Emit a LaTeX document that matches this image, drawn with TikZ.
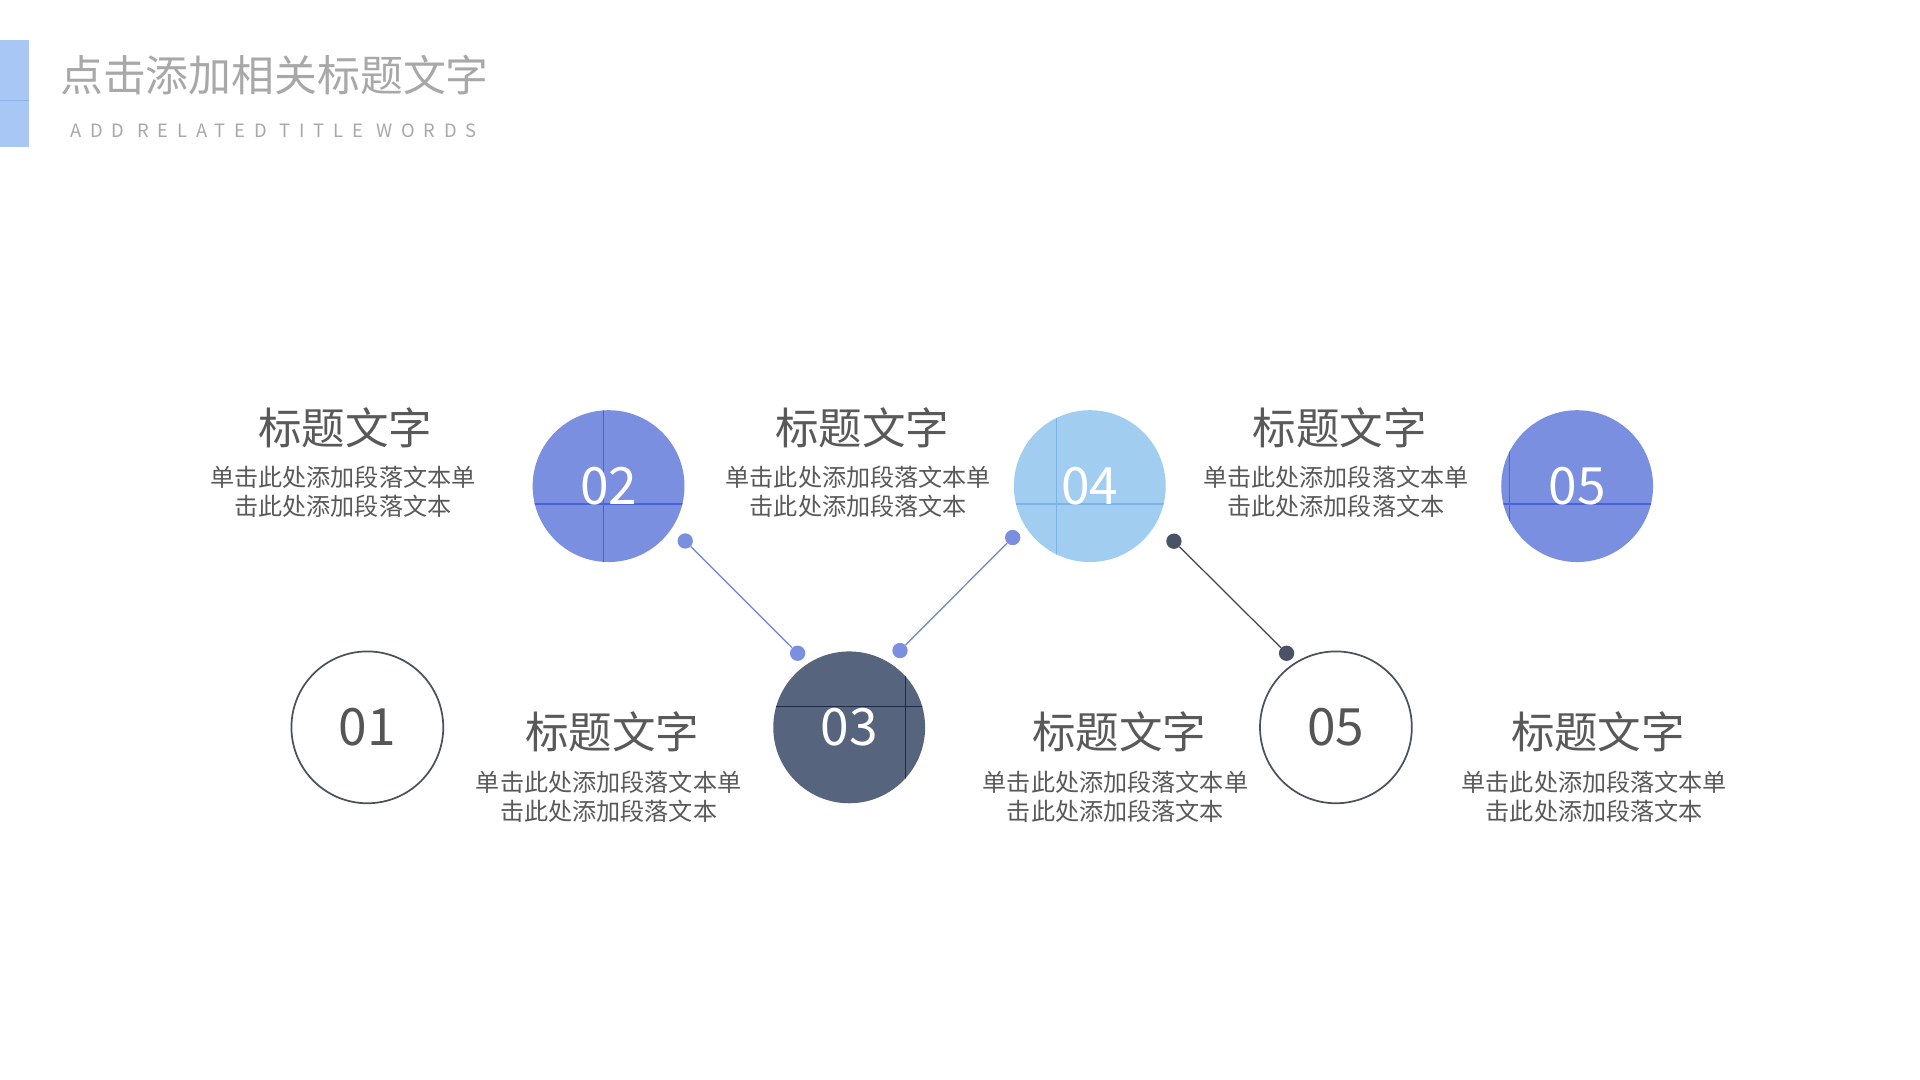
\documentclass[tikz,border=0pt]{standalone}
\usepackage{fontspec}
\setmainfont{Noto Sans CJK SC}
\definecolor{barc}{HTML}{A9C7F5}
\definecolor{barline}{HTML}{8FB2EE}
\definecolor{headc}{HTML}{A8A8A8}
\definecolor{textc}{HTML}{595959}
\definecolor{bluec}{HTML}{7B8FE0}
\definecolor{bluecross}{HTML}{4A63D8}
\definecolor{lightc}{HTML}{A0CDF0}
\definecolor{lightcross}{HTML}{7DB2E6}
\definecolor{slatec}{HTML}{56657D}
\definecolor{slatecross}{HTML}{1E2A48}
\definecolor{ringc}{HTML}{4B4F5E}
\definecolor{numgray}{HTML}{555555}
\definecolor{darkdot}{HTML}{4A5266}
\definecolor{blueline}{HTML}{6F80D8}
\definecolor{darkline}{HTML}{3D4254}
\tikzset{
  numfont/.style={font=\fontsize{42}{50}\selectfont},
  filled/.style={circle, minimum size=124pt, inner sep=0pt, fill=#1, text=white, numfont},
  ring/.style={circle, minimum size=124pt, inner sep=0pt, draw=ringc, line width=1.4pt, text=numgray, numfont},
  cross/.style n args={3}{path picture={
    \draw[line width=0.9pt, #3] ([xshift=#1pt]path picture bounding box.north) -- ([xshift=#1pt]path picture bounding box.south);
    \draw[line width=0.9pt, #3] ([yshift=#2pt]path picture bounding box.west) -- ([yshift=#2pt]path picture bounding box.east);}},
  dotnode/.style={circle, minimum size=12.5pt, inner sep=0pt, fill=#1},
  link/.style={line width=1pt, draw=#1},
  ttl/.style={text=textc, font=\fontsize{35.5}{40}\selectfont, inner sep=0pt},
  body/.style={text=textc, font=\fontsize{19.7}{23.5}\selectfont, align=center, inner sep=0pt},
}
\begin{document}
\begin{tikzpicture}[x=1pt,y=-1pt]
\useasboundingbox[fill=white] (0,0) rectangle (1568,882);
% header
\fill[barc] (0,33) rectangle (24,120);
\draw[barline, line width=0.8pt] (0,81.7) -- (24,81.7);
\node[anchor=west, inner sep=0pt, text=headc, font=\fontsize{35}{40}\selectfont] (head) at (49,61) {点击添加相关标题文字};
\node[anchor=west, inner sep=0pt, text=headc, font=\fontsize{15}{17}\selectfont\addfontfeatures{LetterSpace=48}] (sub) at (57,107) {ADD RELATED TITLE WORDS};
% circles
\node[ring] (c1) at (300,594) {01};
\node[filled=bluec, cross={-4.5}{-14.6}{bluecross}] (c2) at (497,397) {02};
\node[filled=slatec, cross={46}{17}{slatecross}] (c3) at (693.5,594) {03};
\node[filled=lightc, cross={-27}{-14.6}{lightcross}] (c4) at (890,397) {04};
\node[ring] (c5) at (1091,594) {05};
\node[filled=bluec, cross={-55}{-14.6}{bluecross}] (c6) at (1288,397) {05};
% dots and links
\node[dotnode=bluec] (d1) at (559.6,441.8) {};
\node[dotnode=bluec] (d2) at (651.4,533.5) {};
\node[dotnode=bluec] (d3) at (735,531.3) {};
\node[dotnode=bluec] (d4) at (827,439) {};
\node[dotnode=darkdot] (d5) at (958.7,442) {};
\node[dotnode=darkdot] (d6) at (1050.7,533.5) {};
\draw[link=blueline] (d1) -- (d2);
\draw[link=blueline] (d3) -- (d4);
\draw[link=darkline] (d5) -- (d6);
% texts top row
\node[ttl] (t1) at (282,349) {标题文字};
\node[body] (b1) at (280,401.5) {单击此处添加段落文本单\\击此处添加段落文本};
\node[ttl] (t3) at (704,349) {标题文字};
\node[body] (b3) at (701,401.5) {单击此处添加段落文本单\\击此处添加段落文本};
\node[ttl] (t5) at (1094,349) {标题文字};
\node[body] (b5) at (1091,401.5) {单击此处添加段落文本单\\击此处添加段落文本};
% texts bottom row
\node[ttl] (t2) at (500,598) {标题文字};
\node[body] (b2) at (497,651) {单击此处添加段落文本单\\击此处添加段落文本};
\node[ttl] (t4) at (914,598) {标题文字};
\node[body] (b4) at (911,651) {单击此处添加段落文本单\\击此处添加段落文本};
\node[ttl] (t6) at (1305,598) {标题文字};
\node[body] (b6) at (1302,651) {单击此处添加段落文本单\\击此处添加段落文本};
\end{tikzpicture}
\end{document}
